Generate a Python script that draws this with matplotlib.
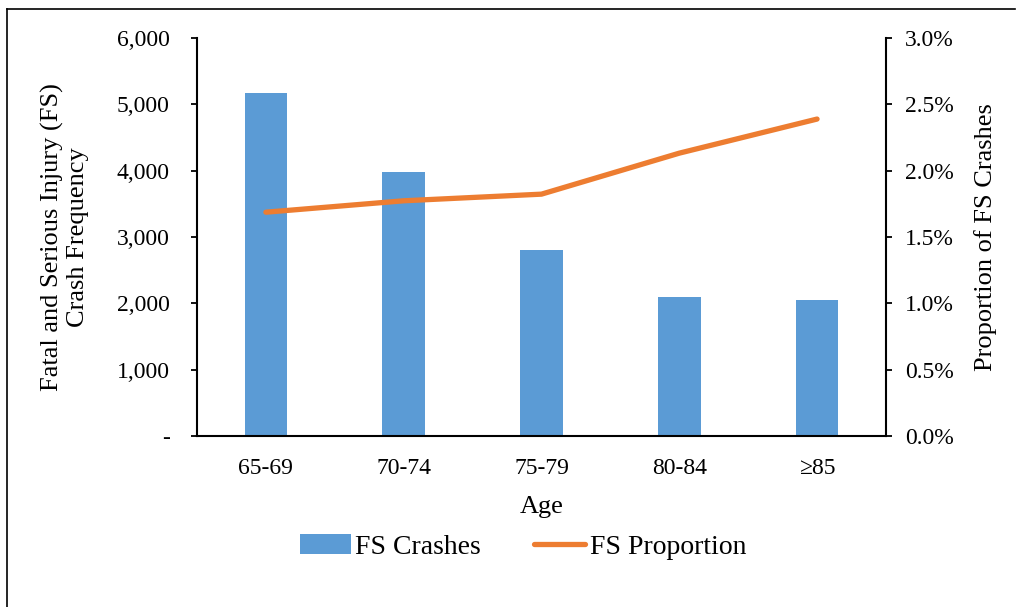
import numpy as np
import matplotlib.pyplot as plt
from matplotlib.lines import Line2D
from matplotlib.ticker import FuncFormatter

plt.rcParams['font.family'] = ['Liberation Serif', 'DejaVu Serif']

ages = ['65-69', '70-74', '75-79', '80-84', '≥85']
fs_crashes = [5166, 3978, 2806, 2097, 2047]
fs_proportion = [0.01687, 0.01773, 0.01823, 0.02132, 0.02389]

blue = '#5B9BD5'
orange = '#ED7D31'
tick_fs = 17
lab_fs = 19

fig = plt.figure(figsize=(10.16, 6.07), dpi=100)
ax = fig.add_axes([0.1939, 0.2817, 0.872 - 0.1939, 0.9374 - 0.2817])
x = np.arange(len(ages))

ax.bar(x, fs_crashes, width=0.31, color=blue, label='FS Crashes', zorder=2)
ax.set_xlim(-0.5, len(ages) - 0.5)
ax.set_ylim(0, 6000)
ax.set_yticks(np.arange(0, 6001, 1000))
ax.yaxis.set_major_formatter(FuncFormatter(lambda v, p: '-' if v == 0 else f'{v:,.0f}'))
ax.set_xticks(x)
ax.set_xticklabels(ages)
ax.tick_params(axis='x', length=0, pad=16, labelsize=tick_fs)
ax.tick_params(axis='y', length=4.5, width=1.3, direction='out', labelsize=tick_fs, pad=15)
ax.set_xlabel('Age', fontsize=lab_fs, labelpad=12)
ax.set_ylabel('Fatal and Serious Injury (FS)\nCrash Frequency', fontsize=lab_fs, labelpad=20,
              linespacing=1.2)

ax2 = ax.twinx()
ax2.plot(x, fs_proportion, color=orange, lw=3.8, solid_capstyle='round', label='FS Proportion', zorder=3)
ax2.set_ylim(0, 0.03)
ax2.set_yticks(np.arange(0, 0.0301, 0.005))
ax2.yaxis.set_major_formatter(FuncFormatter(lambda v, p: f'{v * 100:.1f}%'))
ax2.tick_params(axis='y', length=4.5, width=1.3, direction='out', labelsize=tick_fs, pad=9)
ax2.set_ylabel('Proportion of FS Crashes', fontsize=lab_fs, labelpad=15)

for a in (ax, ax2):
    a.spines['top'].set_visible(False)
    for s in ('left', 'right', 'bottom'):
        a.spines[s].set_linewidth(1.5)
ax.spines['right'].set_visible(False)
ax2.spines['left'].set_visible(False)
ax2.spines['bottom'].set_visible(False)

h1, l1 = ax.get_legend_handles_labels()
h2, l2 = ax2.get_legend_handles_labels()
fig.legend(h1 + h2, l1 + l2, loc='center', bbox_to_anchor=(523 / 1016, 1 - 547 / 607), ncol=2,
           frameon=False, fontsize=20, handlelength=1.85, handletextpad=0.15, columnspacing=1.9)

# outer frame
fig.add_artist(Line2D([7 / 1016, 7 / 1016], [0, 1 - 9 / 607], color='black', lw=1.2, transform=fig.transFigure))
fig.add_artist(Line2D([7 / 1016, 1015 / 1016], [1 - 9 / 607, 1 - 9 / 607], color='black', lw=1.2, transform=fig.transFigure))

fig.savefig('out.png', dpi=100)
